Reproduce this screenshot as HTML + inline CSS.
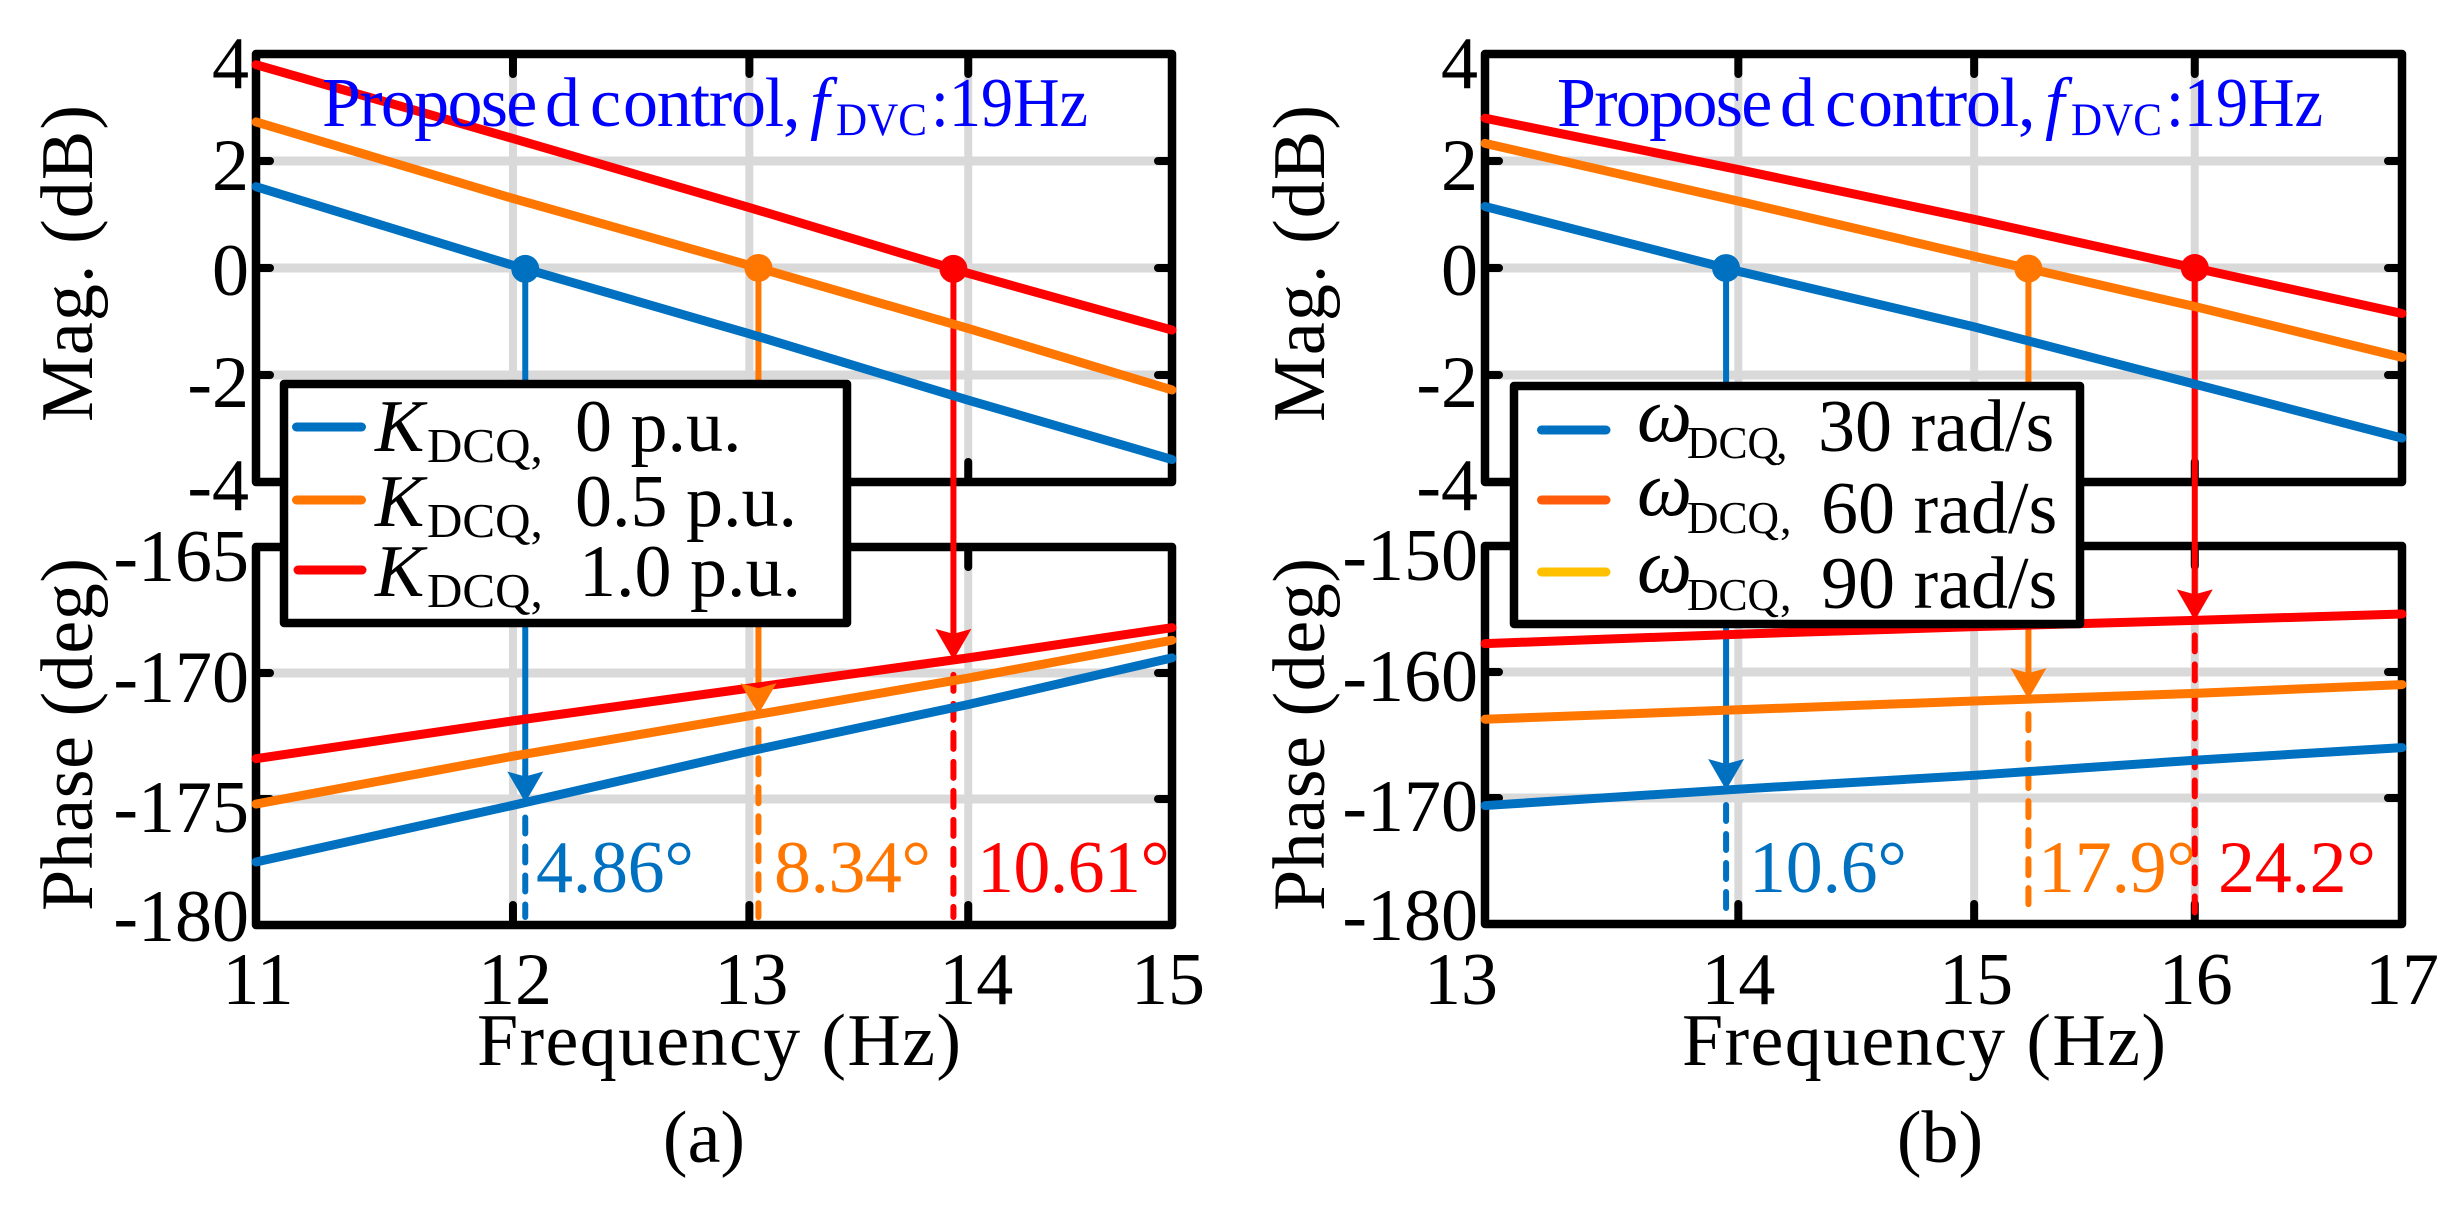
<!DOCTYPE html>
<html lang="en">
<head>
<meta charset="utf-8">
<title>Bode comparison of proposed control</title>
<style>
html,body{margin:0;padding:0;background:#fff;width:2453px;height:1205px;overflow:hidden}
svg{display:block}
text{font-family:"Liberation Serif","DejaVu Serif",serif;font-size:74px;fill:#000}
.ttl{fill:#0000ff;font-size:70px}
.sub{font-size:49px}
.subw{font-size:46px}
</style>
</head>
<body>
<svg id="figure" xmlns="http://www.w3.org/2000/svg" width="2453" height="1205" viewBox="0 0 2453 1205">
<rect width="2453" height="1205" fill="#fff"/>
<g id="panel-a"></g>
<g id="panel-b"></g>

<!-- Panel a static annotation -->
<g>
  <text class="ttl" y="126"><tspan x="322" style="letter-spacing:-1.7px">Propose</tspan><tspan x="545">d</tspan><tspan x="590">c</tspan><tspan x="623" style="letter-spacing:-1.2px">ontrol,</tspan></text>
  <text class="ttl" x="810" y="126" style="font-style:italic">f</text>
  <text class="ttl" x="836" y="135" textLength="91" lengthAdjust="spacingAndGlyphs" style="font-size:47px">DVC</text>
  <text class="ttl" x="931" y="126" textLength="157" lengthAdjust="spacingAndGlyphs">:19Hz</text>
</g>
<text transform="translate(92,422) rotate(-90)" textLength="317" lengthAdjust="spacing">Mag. (dB)</text>
<text transform="translate(92,911) rotate(-90)" textLength="353" lengthAdjust="spacing">Phase (deg)</text>
<text x="477" y="1065" textLength="484" lengthAdjust="spacing">Frequency (Hz)</text>
<text x="704" y="1162" text-anchor="middle">(a)</text>
<text x="536" y="892" textLength="158" style="fill:#0070c0">4.86°</text>
<text x="774" y="892" textLength="157" style="fill:#ff7700">8.34°</text>
<text x="977" y="892" textLength="193" style="fill:#ff0000">10.61°</text>

<g>
  <rect x="284" y="384" width="563" height="239" fill="#fff" stroke="#000" stroke-width="8.5" stroke-linejoin="round"/>
  <g>
    <line x1="296.5" x2="361.5" y1="427" y2="427" stroke="#0070c0" stroke-width="9" stroke-linecap="round"/>
    <text x="375" y="451" style="font-style:italic">K</text><text class="sub" x="427" y="462">DCQ,</text>
    <text x="575" y="451">0 p.u.</text>
  </g>
  <g>
    <line x1="296.5" x2="361.5" y1="500" y2="500" stroke="#ff7700" stroke-width="9" stroke-linecap="round"/>
    <text x="375" y="526" style="font-style:italic">K</text><text class="sub" x="427" y="537">DCQ,</text>
    <text x="575" y="526">0.5 p.u.</text>
  </g>
  <g>
    <line x1="298" x2="362" y1="570" y2="570" stroke="#ff0000" stroke-width="9" stroke-linecap="round"/>
    <text x="375" y="596" style="font-style:italic">K</text><text class="sub" x="427" y="607">DCQ,</text>
    <text x="579" y="596">1.0 p.u.</text>
  </g>
</g>

<!-- Panel b static annotation -->
<g>
  <text class="ttl" y="126"><tspan x="1557" style="letter-spacing:-1.7px">Propose</tspan><tspan x="1780">d</tspan><tspan x="1825">c</tspan><tspan x="1858" style="letter-spacing:-1.2px">ontrol,</tspan></text>
  <text class="ttl" x="2045" y="126" style="font-style:italic">f</text>
  <text class="ttl" x="2071" y="135" textLength="91" lengthAdjust="spacingAndGlyphs" style="font-size:47px">DVC</text>
  <text class="ttl" x="2166" y="126" textLength="157" lengthAdjust="spacingAndGlyphs">:19Hz</text>
</g>
<text transform="translate(1324,422) rotate(-90)" textLength="317" lengthAdjust="spacing">Mag. (dB)</text>
<text transform="translate(1324,911) rotate(-90)" textLength="353" lengthAdjust="spacing">Phase (deg)</text>
<text x="1682" y="1065" textLength="484" lengthAdjust="spacing">Frequency (Hz)</text>
<text x="1940" y="1162" text-anchor="middle">(b)</text>
<text x="1749" y="892" textLength="158" style="fill:#0070c0">10.6°</text>
<text x="2038" y="892" textLength="158" style="fill:#ff7700">17.9°</text>
<text x="2218" y="892" textLength="158" style="fill:#ff0000">24.2°</text>

<g>
  <rect x="1514" y="386" width="566" height="238" fill="#fff" stroke="#000" stroke-width="8.5" stroke-linejoin="round"/>
  <g>
    <line x1="1541.5" x2="1606" y1="430" y2="430" stroke="#0070c0" stroke-width="9" stroke-linecap="round"/>
    <text x="1637" y="441" style="font-style:italic;font-size:78px">ω</text><text class="subw" x="1687" y="458" textLength="92" lengthAdjust="spacingAndGlyphs">DCQ</text><text class="subw" x="1776" y="458">,</text>
    <text x="1818" y="451">30 rad/s</text>
  </g>
  <g>
    <line x1="1541.5" x2="1606" y1="500" y2="500" stroke="#ff5b0b" stroke-width="9" stroke-linecap="round"/>
    <text x="1637" y="515" style="font-style:italic;font-size:78px">ω</text><text class="subw" x="1687" y="533" textLength="92" lengthAdjust="spacingAndGlyphs">DCQ</text><text class="subw" x="1780" y="533">,</text>
    <text x="1821" y="533">60 rad/s</text>
  </g>
  <g>
    <line x1="1541.5" x2="1606" y1="572" y2="572" stroke="#ffc000" stroke-width="9" stroke-linecap="round"/>
    <text x="1637" y="592" style="font-style:italic;font-size:78px">ω</text><text class="subw" x="1687" y="610" textLength="92" lengthAdjust="spacingAndGlyphs">DCQ</text><text class="subw" x="1780" y="610">,</text>
    <text x="1821" y="608">90 rad/s</text>
  </g>
</g>
</svg>

<script>
// ---- chart data ----
const seriesNames = ['blue', 'orange', 'red'];
const seriesColors = ['#0070c0', '#ff7700', '#ff0000'];
const magTicks = [4, 2, 0, -2, -4];

const freqA = [11, 12, 13, 14, 15];
const magA0 = [1.52, 0.05, -1.23, -2.47, -3.58];
const magA1 = [2.73, 1.3, 0.05, -1.13, -2.28];
const magA2 = [3.8, 2.42, 1.13, -0.1, -1.16];
const phaseA0 = [-177.5, -175.25, -173.1, -171.25, -169.4];
const phaseA1 = [-175.2, -173.3, -171.7, -170.2, -168.7];
const phaseA2 = [-173.4, -171.9, -170.6, -169.4, -168.2];
const crossA = [12.05, 13.04, 13.93];
const phaseTicksA = [-165, -170, -175, -180];

const freqB = [13, 14, 15, 16, 17];
const magB0 = [1.15, -0.06, -1.1, -2.17, -3.18];
const magB1 = [2.33, 1.25, 0.22, -0.72, -1.67];
const magB2 = [2.8, 1.84, 0.91, 0, -0.85];
const phaseB0 = [-170.6, -169.3, -168.2, -167, -166];
const phaseB1 = [-163.75, -163, -162.3, -161.7, -161];
const phaseB2 = [-157.75, -157, -156.4, -155.9, -155.4];
const crossB = [13.95, 15.24, 16];
const phaseTicksB = [-150, -160, -170, -180];

const NS = 'http://www.w3.org/2000/svg';
function mk(parent, tag, attrs, txt) {
  const el = document.createElementNS(NS, tag);
  for (const k in attrs) el.setAttribute(k, attrs[k]);
  if (txt !== undefined) el.textContent = txt;
  parent.appendChild(el);
  return el;
}

function drawPanel(id, tag, freq, mags, phases, cross, phaseTicks, box, xLabelAdj) {
  const root = document.getElementById(id);
  const fMin = freq[0], fMax = freq[freq.length - 1];
  const x = f => box.l + (box.r - box.l) * Math.log(f / fMin) / Math.log(fMax / fMin);
  const yM = v => box.mt + (box.mb - box.mt) * (magTicks[0] - v) / (magTicks[0] - magTicks[magTicks.length - 1]);
  const pTop = phaseTicks[0], pBot = phaseTicks[phaseTicks.length - 1];
  const yP = v => box.pt + (box.pb - box.pt) * (pTop - v) / (pTop - pBot);
  const interp = (arr, f) => {
    for (let i = 0; i < freq.length - 1; i++) {
      if (f <= freq[i + 1]) {
        const t = Math.log(f / freq[i]) / Math.log(freq[i + 1] / freq[i]);
        return arr[i] + (arr[i + 1] - arr[i]) * t;
      }
    }
    return arr[arr.length - 1];
  };

  // grid lines and ticks
  const inner = freq.slice(1, -1);
  const plots = [
    {t: box.mt, b: box.mb, ticks: magTicks, y: yM, kind: 'magnitude', shift: [34, 29, 27, 32, 28]},
    {t: box.pt, b: box.pb, ticks: phaseTicks, y: yP, kind: 'phase', shift: [34, 29, 33, 16]}
  ];
  plots.forEach(p => {
    inner.forEach(f => {
      const g = mk(root, 'line', {x1: x(f), x2: x(f), y1: p.t, y2: p.b, stroke: '#d9d9d9', 'stroke-width': 8});
      
      
    });
    p.ticks.slice(1, -1).forEach(v => {
      const g = mk(root, 'line', {x1: box.l, x2: box.r, y1: p.y(v), y2: p.y(v), stroke: '#d9d9d9', 'stroke-width': 9});
      
      
    });
    inner.forEach(f => {
      [[p.t, p.t + 20], [p.b, p.b - 20]].forEach(s => {
        const k = mk(root, 'line', {x1: x(f), x2: x(f), y1: s[0], y2: s[1], stroke: '#000', 'stroke-width': 8, 'stroke-linecap': 'round'});
        
        
      });
    });
    p.ticks.slice(1, -1).forEach(v => {
      [[box.l, box.l + 14], [box.r, box.r - 14]].forEach(s => {
        const k = mk(root, 'line', {x1: s[0], x2: s[1], y1: p.y(v), y2: p.y(v), stroke: '#000', 'stroke-width': 8, 'stroke-linecap': 'round'});
        
        
      });
    });
    const frame = mk(root, 'rect', {x: box.l, y: p.t, width: box.r - box.l, height: p.b - p.t, fill: 'none', stroke: '#000', 'stroke-width': 8.5, 'stroke-linejoin': 'round'});
    
    
    p.ticks.forEach((v, i) => {
      const lab = mk(root, 'text', {x: box.l - 7, y: p.y(v) + p.shift[i], 'text-anchor': 'end'}, String(v));
      
      
    });
  });

  // x tick labels (shared axis, below phase plot)
  freq.forEach((f, i) => {
    const lab = mk(root, 'text', {x: x(f) + xLabelAdj[i], y: 1004, 'text-anchor': 'middle'}, String(f));
    
    
  });

  // crossover drop lines, drawn beneath the curves' markers
  seriesNames.forEach((nm, i) => {
    const f = cross[i];
    const cx = x(f);
    const my = yM(interp(mags[i], f));
    const py = yP(interp(phases[i], f));
    const c = seriesColors[i];
    const solid = mk(root, 'line', {x1: cx, x2: cx, y1: my, y2: py - 20, stroke: c, 'stroke-width': 6});
    
    
    const dash = mk(root, 'line', {x1: cx, x2: cx, y1: py + 15, y2: box.pb - 8, stroke: c, 'stroke-width': 6, 'stroke-dasharray': '16 13', 'stroke-linecap': 'round'});
    
    
  });

  // curves
  seriesNames.forEach((nm, i) => {
    const m = mk(root, 'polyline', {points: freq.map((f, j) => x(f) + ',' + yM(mags[i][j])).join(' '), fill: 'none', stroke: seriesColors[i], 'stroke-width': 9, 'stroke-linecap': 'round', 'stroke-linejoin': 'round'});
    
    
    const p = mk(root, 'polyline', {points: freq.map((f, j) => x(f) + ',' + yP(phases[i][j])).join(' '), fill: 'none', stroke: seriesColors[i], 'stroke-width': 9, 'stroke-linecap': 'round', 'stroke-linejoin': 'round'});
    
    
  });

  // markers and arrowheads
  seriesNames.forEach((nm, i) => {
    const f = cross[i];
    const cx = x(f);
    const my = yM(interp(mags[i], f));
    const py = yP(interp(phases[i], f));
    const c = seriesColors[i];
    const dot = mk(root, 'circle', {cx: cx, cy: my, r: 14, fill: c});
    
    
    const pts = [[cx, py], [cx - 18, py - 31], [cx, py - 26], [cx + 18, py - 31]].map(q => q.join(',')).join(' ');
    const head = mk(root, 'polygon', {points: pts, fill: c});
    
    
  });
}

drawPanel('panel-a', 'a', freqA, [magA0, magA1, magA2], [phaseA0, phaseA1, phaseA2], crossA, phaseTicksA,
  {l: 256, r: 1172, mt: 54, mb: 482, pt: 547, pb: 925}, [2, 2, 2, 8, -4]);
drawPanel('panel-b', 'b', freqB, [magB0, magB1, magB2], [phaseB0, phaseB1, phaseB2], crossB, phaseTicksB,
  {l: 1485, r: 2402, mt: 54, mb: 482, pt: 546, pb: 924}, [-24, 0, 2, 1, 0]);
</script>
</body>
</html>
